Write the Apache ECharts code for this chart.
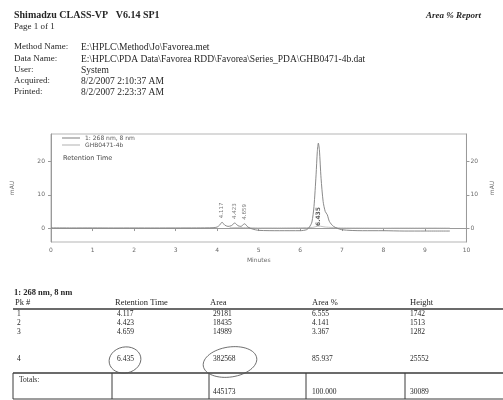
<!DOCTYPE html>
<html>
<head>
<meta charset="utf-8">
<script src="https://cdn.jsdelivr.net/npm/echarts@6/dist/echarts.min.js"></script>
<style>
  html, body { margin: 0; padding: 0; background: #fff; }
  #c { width: 503px; height: 400px; }
</style>
</head>
<body>
<div id="c"></div>
<script>
// Peak table (channel 1: 268 nm, 8 nm)
const peakNumbers = [1, 2, 3, 4];
const retentionTimes = [4.117, 4.423, 4.659, 6.435];
const peakAreas = [29181, 18435, 14989, 382568];
const peakHeights = [1742, 1513, 1282, 25552];   // µAU

// Axis ticks
const timeTicks = [0, 1, 2, 3, 4, 5, 6, 7, 8, 9, 10];
const signalTicks = [0, 10, 20];                  // mAU

// Detector trace, [minutes, mAU]
const trace268 = [
  [0, 0.05], [0.5, 0.03], [1, 0.04], [1.5, 0.02], [2, 0.03], [2.5, 0.02], [3, 0.03],
  [3.5, 0.04], [3.9, 0.1], [4.0, 0.3], [4.06, 0.9], [4.117, 1.742], [4.18, 0.9],
  [4.26, 0.5], [4.34, 0.7], [4.423, 1.513], [4.5, 0.7], [4.57, 0.5], [4.659, 1.282],
  [4.74, 0.3], [4.85, -0.3], [5.0, -0.7], [5.5, -0.8], [6.0, -0.8], [6.15, -0.5],
  [6.22, 0.3], [6.28, 1.8], [6.33, 6.5], [6.38, 16], [6.41, 23], [6.435, 25.552],
  [6.46, 23.5], [6.5, 15], [6.55, 8], [6.6, 5], [6.65, 4], [6.7, 2], [6.8, 0.5],
  [7.0, -0.5], [7.5, -0.8], [8, -0.8], [8.5, -0.9], [9, -0.9], [9.6, -0.9]
];
// Reference channel trace, [minutes, mAU]
const traceRef = [
  [4.3, 0.1], [4.6, 0.15], [5, 0.05], [5.5, 0.05], [6, 0.1], [6.3, 0.2], [6.45, 0.6],
  [6.6, 0.3], [7, 0.05], [7.5, 0.02], [8, 0], [8.5, 0.02], [9, 0.02], [9.6, 0]
];

const totalArea = peakAreas.reduce((a, b) => a + b, 0);
const totalHeight = peakHeights.reduce((a, b) => a + b, 0);
const areaPercents = peakAreas.map(a => (a / totalArea * 100).toFixed(3));

const SERIF = '"Liberation Serif", "DejaVu Serif", serif';
const INK = '#262626';

function txt(x, y, text, size, extra) {
  return {
    type: 'text', x: x, y: y, silent: true,
    style: Object.assign({
      text: text,
      font: (extra && extra.fontStyle ? extra.fontStyle + ' ' : '') + size + 'px ' + SERIF,
      fill: INK,
      align: 'left', textAlign: 'left',
      verticalAlign: 'middle', textVerticalAlign: 'middle'
    }, extra && extra.style ? extra.style : {})
  };
}
function hline(x1, x2, y, w) {
  return { type: 'line', silent: true, shape: { x1: x1, y1: y, x2: x2, y2: y },
           style: { stroke: '#3a3a3a', lineWidth: w || 1 } };
}
function vline(x, y1, y2, w) {
  return { type: 'line', silent: true, shape: { x1: x, y1: y1, x2: x, y2: y2 },
           style: { stroke: '#3a3a3a', lineWidth: w || 1 } };
}

const graphics = [];
// Report header
graphics.push(txt(14, 15, 'Shimadzu CLASS-VP   V6.14 SP1', 10, { fontStyle: 'bold' }));
graphics.push(txt(14, 27, 'Page 1 of 1', 9));
graphics.push(txt(481, 16, 'Area % Report', 9, { fontStyle: 'italic bold', style: { align: 'right', textAlign: 'right' } }));

const headerLabels = ['Method Name:', 'Data Name:', 'User:', 'Acquired:', 'Printed:'];
const headerValues = [
  'E:\\HPLC\\Method\\Jo\\Favorea.met',
  'E:\\HPLC\\PDA Data\\Favorea RDD\\Favorea\\Series_PDA\\GHB0471-4b.dat',
  'System',
  '8/2/2007 2:10:37 AM',
  '8/2/2007 2:23:37 AM'
];
const headerRows = [47, 59, 70, 81, 92];
headerLabels.forEach((l, i) => {
  graphics.push(txt(14, headerRows[i], l, 9));
  graphics.push(txt(81, headerRows[i], headerValues[i], 9.5));
});

// Peak table
const colX = [15, 115, 210, 312, 410];
graphics.push(txt(14, 293, '1: 268 nm, 8 nm', 8.5, { fontStyle: 'bold' }));
['Pk #', 'Retention Time', 'Area', 'Area %', 'Height'].forEach((h, i) => {
  graphics.push(txt(colX[i], 303, h, 8.5));
});
graphics.push(hline(13, 503, 309, 1.3));
const rowY = [314, 323, 332, 359];
peakNumbers.forEach((n, i) => {
  const y = rowY[i];
  graphics.push(txt(colX[0] + 2, y, String(n), 7.5));
  graphics.push(txt(colX[1] + 2, y, retentionTimes[i].toFixed(3), 7.5));
  graphics.push(txt(colX[2] + 3, y, String(peakAreas[i]), 7.5));
  graphics.push(txt(colX[3], y, areaPercents[i], 7.5));
  graphics.push(txt(colX[4], y, String(peakHeights[i]), 7.5));
});
// Totals box
graphics.push(hline(13, 503, 373, 1.6));
graphics.push(hline(13, 503, 399, 1));
graphics.push(vline(13, 373, 399, 1));
graphics.push(vline(112, 373, 399, 1));
graphics.push(vline(209, 373, 399, 1));
graphics.push(vline(306, 373, 399, 1));
graphics.push(vline(405, 373, 399, 1));
graphics.push(txt(19, 380, 'Totals:', 7.5));
graphics.push(txt(colX[2] + 3, 392, String(totalArea), 7.5));
graphics.push(txt(colX[3], 392, (100).toFixed(3), 7.5));
graphics.push(txt(colX[4], 392, String(totalHeight), 7.5));

// Pen marks around the main peak's retention time and area
graphics.push({ type: 'ellipse', silent: true, shape: { cx: 125, cy: 360, rx: 16, ry: 13 },
  rotation: 0.2, originX: 125, originY: 360,
  style: { fill: 'none', stroke: '#555', lineWidth: 0.8 } });
graphics.push({ type: 'ellipse', silent: true, shape: { cx: 230, cy: 362, rx: 27, ry: 15 },
  rotation: 0.15, originX: 230, originY: 362,
  style: { fill: 'none', stroke: '#555', lineWidth: 0.8 } });

const axisGrey = '#9a9a9a';
const labelGrey = '#6a6a6a';

const chart = echarts.init(document.getElementById('c'));
chart.setOption({
  backgroundColor: '#fff',
  animation: false,
  grid: { left: 51, right: 26, top: 134, bottom: 158, show: true,
          borderColor: '#b5b5b5', borderWidth: 1, backgroundColor: 'transparent' },
  legend: [{
    left: 62, top: 135, orient: 'vertical', padding: 0, itemGap: 1,
    itemWidth: 18, itemHeight: 1, icon: 'rect',
    data: ['1: 268 nm, 8 nm', 'GHB0471-4b'],
    textStyle: { fontSize: 6, color: '#555', padding: [0, 0, 0, 0], fontFamily: 'DejaVu Sans' }
  }, {
    left: 58, top: 155, padding: 0, itemWidth: 0, itemHeight: 4,
    data: [{ name: 'Retention Time', icon: 'none' }],
    textStyle: { fontSize: 6.5, color: '#444', fontFamily: 'DejaVu Sans' }
  }],
  xAxis: {
    type: 'value', min: 0, max: 10, interval: 1,
    name: 'Minutes', nameLocation: 'middle', nameGap: 15,
    nameTextStyle: { fontSize: 6, color: labelGrey, fontFamily: 'DejaVu Sans' },
    axisLine: { show: true, lineStyle: { color: axisGrey, width: 1 } },
    axisTick: { show: true, length: 3, lineStyle: { color: axisGrey } },
    axisLabel: { fontSize: 6, color: labelGrey, margin: 5, fontFamily: 'DejaVu Sans',
                 customValues: timeTicks },
    splitLine: { show: false }
  },
  yAxis: [{
    type: 'value', min: -4.2, max: 28.3, position: 'left',
    name: 'mAU', nameLocation: 'middle', nameGap: 36,
    nameTextStyle: { fontSize: 6, color: labelGrey, fontFamily: 'DejaVu Sans' },
    axisLine: { show: true, lineStyle: { color: axisGrey } },
    axisTick: { show: true, length: 3, customValues: signalTicks, lineStyle: { color: axisGrey } },
    axisLabel: { fontSize: 6, color: labelGrey, margin: 6, customValues: signalTicks,
                 fontFamily: 'DejaVu Sans' },
    splitLine: { show: false }
  }, {
    type: 'value', min: -4.2, max: 28.3, position: 'right',
    name: 'mAU', nameLocation: 'middle', nameGap: 18,
    nameTextStyle: { fontSize: 6, color: labelGrey, fontFamily: 'DejaVu Sans' },
    axisLine: { show: true, lineStyle: { color: axisGrey } },
    axisTick: { show: true, length: 3, customValues: signalTicks, lineStyle: { color: axisGrey } },
    axisLabel: { fontSize: 6, color: labelGrey, margin: 4, customValues: signalTicks,
                 fontFamily: 'DejaVu Sans' },
    splitLine: { show: false }
  }],
  series: [{
    name: '1: 268 nm, 8 nm', type: 'line', data: trace268, yAxisIndex: 0,
    showSymbol: false, symbol: 'none', smooth: 0.25,
    lineStyle: { color: '#7d7d7d', width: 0.9 }, itemStyle: { color: '#7d7d7d' },
    z: 3
  }, {
    name: 'GHB0471-4b', type: 'line', data: traceRef, yAxisIndex: 0,
    showSymbol: false, symbol: 'none', smooth: 0.2,
    lineStyle: { color: '#b0b0b0', width: 0.8 }, itemStyle: { color: '#b0b0b0' },
    z: 2
  }, {
    name: 'Retention Time', type: 'scatter', yAxisIndex: 0,
    symbolSize: 0, itemStyle: { color: '#444' },
    data: retentionTimes.map((t, i) => {
      const main = i === retentionTimes.length - 1;
      return {
        value: [t, main ? 0 : peakHeights[i] / 1000],
        label: {
          show: true, position: 'top', rotate: 90, distance: main ? 2 : 4,
          align: 'left', verticalAlign: 'middle',
          formatter: t.toFixed(3), fontSize: main ? 6 : 5.5,
          fontWeight: main ? 'bold' : 'normal',
          color: main ? '#333' : '#555', fontFamily: 'DejaVu Sans'
        }
      };
    }),
    z: 4
  }],
  graphic: { elements: graphics }
});
</script>
</body>
</html>
